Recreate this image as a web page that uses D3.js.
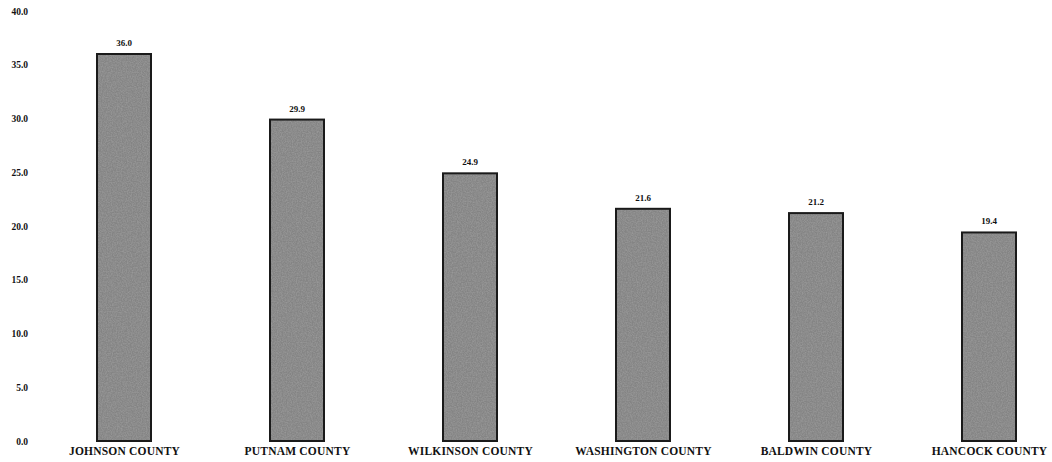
<!DOCTYPE html>
<html>
<head>
<meta charset="utf-8">
<script src="https://cdn.jsdelivr.net/npm/d3@7"></script>
<style>
  html, body { margin: 0; padding: 0; background: #fff; }
  svg { display: block; }
  text { font-family: "Liberation Serif", "DejaVu Serif", serif; font-weight: bold; fill: #111; }
</style>
</head>
<body>
<svg id="chart" width="1052" height="462"></svg>
<script>
const categories = ["JOHNSON COUNTY", "PUTNAM COUNTY", "WILKINSON COUNTY", "WASHINGTON COUNTY", "BALDWIN COUNTY", "HANCOCK COUNTY"];
const values = [36.0, 29.9, 24.9, 21.6, 21.2, 19.4];
const tickValues = [0, 5, 10, 15, 20, 25, 30, 35, 40];

const svg = d3.select("#chart");

// noise texture for scanned look
const defs = svg.append("defs");
const f = defs.append("filter").attr("id", "grain").attr("x", 0).attr("y", 0).attr("width", 1).attr("height", 1);
f.append("feTurbulence").attr("type", "fractalNoise").attr("baseFrequency", 0.8).attr("numOctaves", 2).attr("seed", 3).attr("result", "noise");
f.append("feColorMatrix").attr("in", "noise").attr("type", "matrix")
  .attr("values", "0 0 0 0 0.35  0 0 0 0 0.35  0 0 0 0 0.35  1.2 0 0 0 -0.35").attr("result", "n2");
f.append("feComposite").attr("in", "n2").attr("in2", "SourceGraphic").attr("operator", "atop").attr("result", "n3");
f.append("feMerge").selectAll("feMergeNode").data(["SourceGraphic", "n3"]).join("feMergeNode").attr("in", d => d);

const y = d3.scaleLinear().domain([0, 40]).range([441, 11]);
const x = d3.scalePoint().domain(categories).range([124, 989]);
const barW = 54;

// y axis labels only
const yAxis = d3.axisLeft(y).tickValues(tickValues).tickFormat(d3.format(".1f")).tickSize(0).tickPadding(0);
const ga = svg.append("g").attr("transform", "translate(28,0)").call(yAxis);
ga.select(".domain").remove();
ga.selectAll("text").style("font-family", "'Liberation Serif', serif").style("font-weight", "bold").style("font-size", "9.5px").attr("fill", "#111");

// bars
svg.append("g").selectAll("rect").data(values).join("rect")
  .attr("x", (d, i) => x(categories[i]) - barW / 2)
  .attr("y", d => y(d))
  .attr("width", barW)
  .attr("height", d => y(0) - y(d))
  .attr("fill", "#848484")
  .attr("filter", "url(#grain)");
svg.append("g").selectAll("rect").data(values).join("rect")
  .attr("x", (d, i) => x(categories[i]) - barW / 2)
  .attr("y", d => y(d))
  .attr("width", barW)
  .attr("height", d => y(0) - y(d))
  .attr("fill", "none")
  .attr("stroke", "#1a1a1a")
  .attr("stroke-width", 2);

// value labels
svg.append("g").selectAll("text").data(values).join("text")
  .attr("x", (d, i) => x(categories[i]))
  .attr("y", d => y(d) - 8)
  .attr("text-anchor", "middle")
  .style("font-size", "9px")
  .text(d => d3.format(".1f")(d));

// category labels
const xAxis = d3.axisBottom(x).tickSize(0).tickPadding(0);
const gx = svg.append("g").attr("transform", "translate(0,447)").call(xAxis);
gx.select(".domain").remove();
gx.selectAll("text").style("font-family", "'Liberation Serif', serif").style("font-weight", "bold").style("font-size", "11.5px").style("letter-spacing", "0.2px").attr("fill", "#111").attr("dy", "0.71em");
</script>
</body>
</html>
